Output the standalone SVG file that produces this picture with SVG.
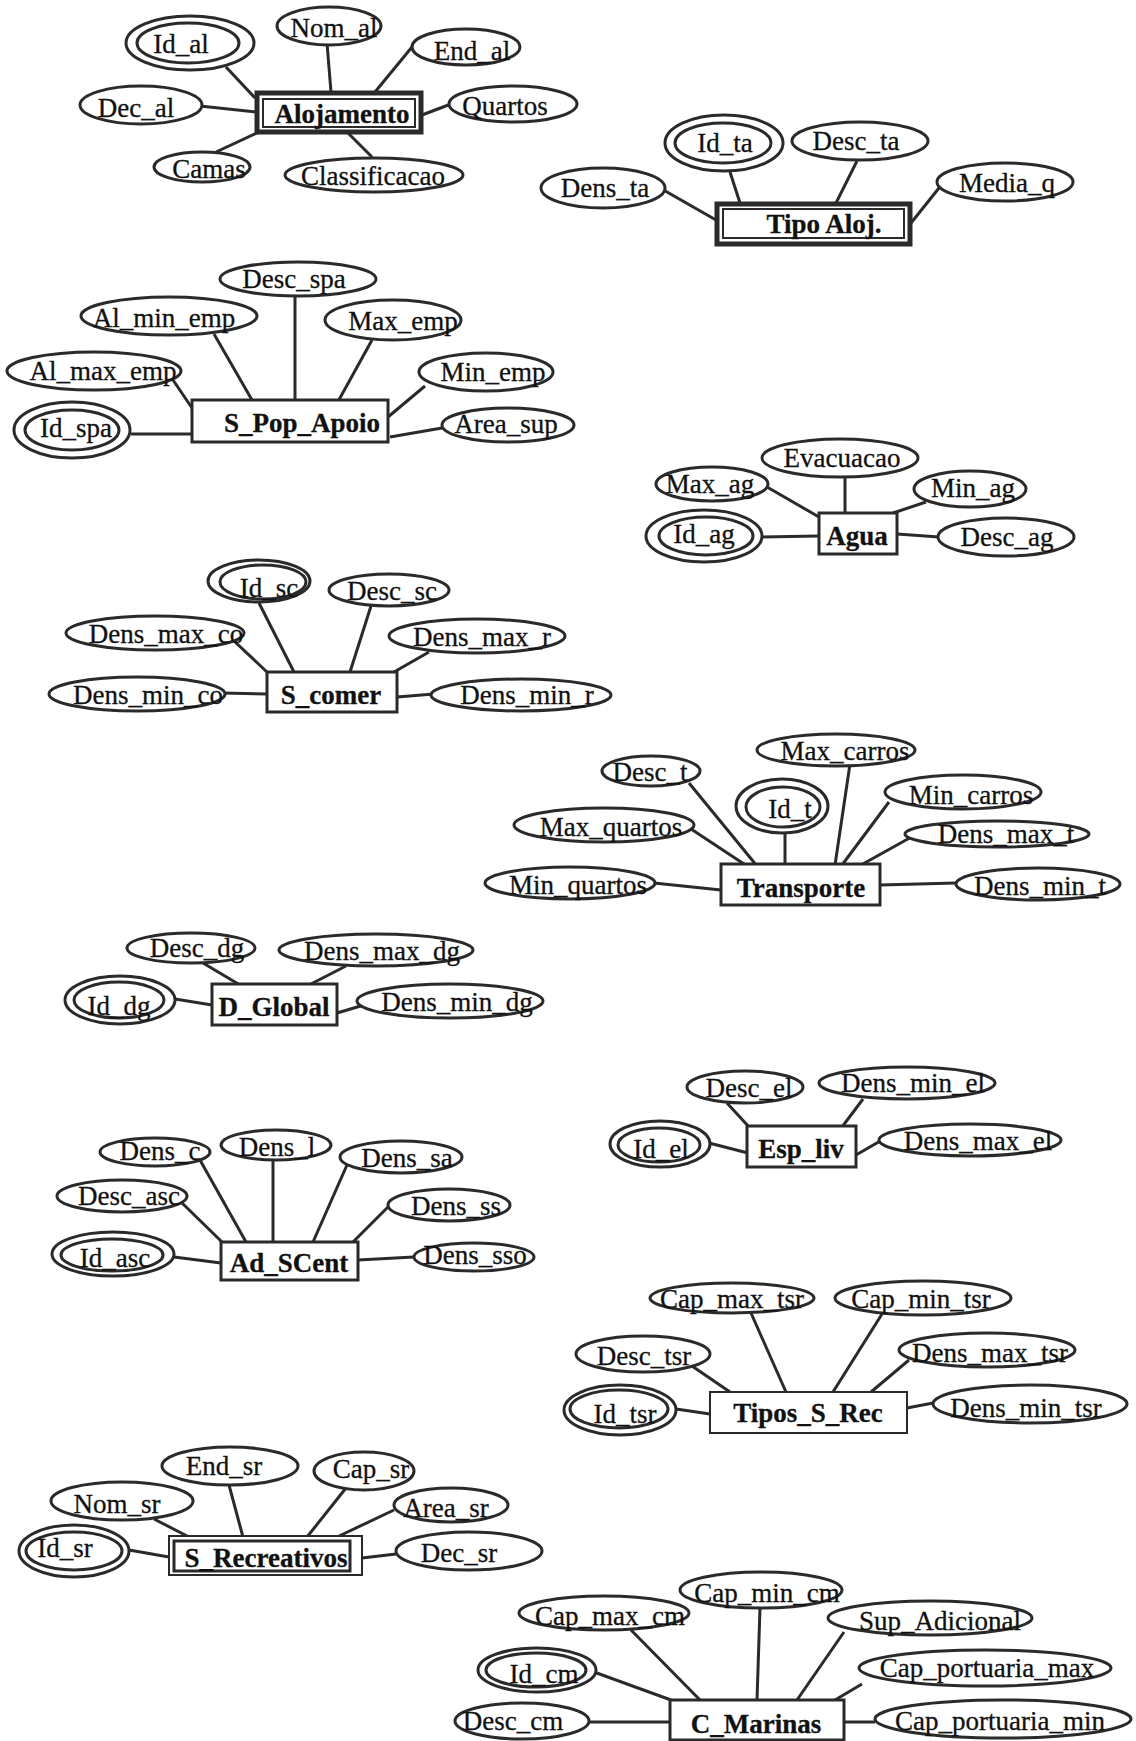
<svg xmlns="http://www.w3.org/2000/svg" width="1136" height="1741" viewBox="0 0 1136 1741">
<style>
.a{fill:#fff;stroke:#2a2a2a;stroke-width:3}
.e{fill:#fff;stroke:#2a2a2a;stroke-width:3}
.w{fill:#fff;stroke:#2a2a2a;stroke-width:5}
.c line{stroke:#2a2a2a;stroke-width:3}
text{font-family:"Liberation Serif","Times New Roman",serif;font-size:27px;fill:#111;stroke:#111;stroke-width:0.3;text-anchor:middle}
.n{font-weight:bold}
</style>
<rect width="1136" height="1741" fill="#fff"/>
<g id="connectors" class="c">
<line x1="226" y1="67" x2="255" y2="98"/><line x1="327" y1="43" x2="331" y2="92"/><line x1="412" y1="47" x2="375" y2="92"/><line x1="200" y1="106" x2="257" y2="112"/><line x1="422" y1="115" x2="451" y2="104"/><line x1="216" y1="152" x2="257" y2="133"/><line x1="348" y1="133" x2="372" y2="157"/>
<line x1="730" y1="172" x2="740" y2="203"/><line x1="857" y1="161" x2="836" y2="203"/><line x1="660" y1="188" x2="716" y2="220"/><line x1="939" y1="188" x2="911" y2="223"/>
<line x1="295" y1="296" x2="295" y2="400"/><line x1="214" y1="334" x2="252" y2="400"/><line x1="372" y1="340" x2="335" y2="407"/><line x1="173" y1="380" x2="192" y2="408"/><line x1="425" y1="386" x2="388" y2="417"/><line x1="131" y1="434" x2="196" y2="434"/><line x1="442" y1="428" x2="390" y2="437"/>
<line x1="845" y1="478" x2="845" y2="513"/><line x1="767" y1="487" x2="819" y2="517"/><line x1="926" y1="502" x2="893" y2="513"/><line x1="762" y1="537" x2="819" y2="536"/><line x1="897" y1="534" x2="939" y2="537"/>
<line x1="259" y1="603" x2="294" y2="672"/><line x1="371" y1="606" x2="350" y2="672"/><line x1="233" y1="640" x2="267" y2="672"/><line x1="429" y1="652" x2="394" y2="672"/><line x1="222" y1="693" x2="267" y2="694"/><line x1="397" y1="697" x2="434" y2="694"/>
<line x1="689" y1="783" x2="757" y2="866"/><line x1="688" y1="827" x2="747" y2="866"/><line x1="785" y1="832" x2="785" y2="865"/><line x1="850" y1="764" x2="835" y2="865"/><line x1="889" y1="802" x2="842" y2="865"/><line x1="915" y1="835" x2="861" y2="865"/><line x1="654" y1="883" x2="721" y2="890"/><line x1="880" y1="885" x2="956" y2="883"/>
<line x1="203" y1="963" x2="240" y2="985"/><line x1="346" y1="966" x2="309" y2="985"/><line x1="175" y1="999" x2="212" y2="1005"/><line x1="337" y1="1013" x2="364" y2="1005"/>
<line x1="200" y1="1160" x2="246" y2="1242"/><line x1="273" y1="1160" x2="273" y2="1242"/><line x1="347" y1="1165" x2="313" y2="1242"/><line x1="181" y1="1202" x2="222" y2="1242"/><line x1="388" y1="1207" x2="353" y2="1242"/><line x1="174" y1="1257" x2="221" y2="1263"/><line x1="358" y1="1260" x2="414" y2="1257"/>
<line x1="727" y1="1103" x2="749" y2="1127"/><line x1="863" y1="1099" x2="842" y2="1127"/><line x1="709" y1="1143" x2="748" y2="1153"/><line x1="882" y1="1140" x2="856" y2="1155"/>
<line x1="751" y1="1313" x2="786" y2="1392"/><line x1="882" y1="1314" x2="833" y2="1392"/><line x1="692" y1="1366" x2="730" y2="1392"/><line x1="909" y1="1360" x2="871" y2="1392"/><line x1="676" y1="1409" x2="710" y2="1414"/><line x1="907" y1="1408" x2="933" y2="1403"/>
<line x1="229" y1="1485" x2="243" y2="1537"/><line x1="346" y1="1488" x2="307" y2="1537"/><line x1="154" y1="1519" x2="189" y2="1537"/><line x1="394" y1="1510" x2="337" y2="1537"/><line x1="129" y1="1550" x2="169" y2="1557"/><line x1="362" y1="1558" x2="396" y2="1554"/>
<line x1="594" y1="1672" x2="671" y2="1700"/><line x1="631" y1="1630" x2="700" y2="1700"/><line x1="760" y1="1608" x2="757" y2="1700"/><line x1="844" y1="1632" x2="797" y2="1700"/><line x1="862" y1="1684" x2="835" y2="1700"/><line x1="589" y1="1722" x2="670" y2="1722"/><line x1="844" y1="1722" x2="875" y2="1722"/>
</g>

<g id="Alojamento"><rect class="w" x="257" y="93" width="164" height="39"/><rect class="a" x="263" y="99" width="152" height="28" style="stroke-width:2"/><text class="n" x="342" y="123">Alojamento</text></g>
<g id="Id_al"><ellipse class="a" cx="190" cy="43" rx="64" ry="27"/><ellipse class="a" cx="188" cy="43" rx="51" ry="20"/><text x="181" y="53">Id_al</text></g>
<g id="Nom_al"><ellipse class="a" cx="329" cy="26" rx="52" ry="19"/><text x="334" y="37">Nom_al</text></g>
<g id="End_al"><ellipse class="a" cx="466" cy="47" rx="54" ry="18"/><text x="472" y="60">End_al</text></g>
<g id="Dec_al"><ellipse class="a" cx="141" cy="105" rx="61" ry="19"/><text x="136" y="117">Dec_al</text></g>
<g id="Quartos"><ellipse class="a" cx="513" cy="104" rx="64" ry="18"/><text x="505" y="115">Quartos</text></g>
<g id="Camas"><ellipse class="a" cx="202" cy="167" rx="48" ry="15"/><text x="209" y="178">Camas</text></g>
<g id="Classificacao"><ellipse class="a" cx="374" cy="175" rx="89" ry="17"/><text x="373" y="185">Classificacao</text></g>

<g id="Tipo_Aloj"><rect class="w" x="717" y="204" width="193" height="40"/><rect class="a" x="723" y="209" width="181" height="29" style="stroke-width:2"/><text class="n" x="824" y="233">Tipo Aloj.</text></g>
<g id="Id_ta"><ellipse class="a" cx="724" cy="143" rx="59" ry="28"/><ellipse class="a" cx="723" cy="143" rx="48" ry="20"/><text x="725" y="152">Id_ta</text></g>
<g id="Desc_ta"><ellipse class="a" cx="860" cy="141" rx="68" ry="19"/><text x="856" y="150">Desc_ta</text></g>
<g id="Dens_ta"><ellipse class="a" cx="603" cy="188" rx="62" ry="20"/><text x="605" y="197">Dens_ta</text></g>
<g id="Media_q"><ellipse class="a" cx="1005" cy="182" rx="68" ry="19"/><text x="1007" y="192">Media_q</text></g>

<g id="S_Pop_Apoio"><rect class="e" x="192" y="400" width="196" height="42"/><text class="n" x="302" y="432">S_Pop_Apoio</text></g>
<g id="Desc_spa"><ellipse class="a" cx="298" cy="279" rx="78" ry="17"/><text x="294" y="288">Desc_spa</text></g>
<g id="Al_min_emp"><ellipse class="a" cx="169" cy="316" rx="88" ry="19"/><text x="164" y="327">Al_min_emp</text></g>
<g id="Max_emp"><ellipse class="a" cx="393" cy="320" rx="68" ry="20"/><text x="403" y="330">Max_emp</text></g>
<g id="Al_max_emp"><ellipse class="a" cx="94" cy="371" rx="87" ry="19"/><text x="103" y="380">Al_max_emp</text></g>
<g id="Min_emp"><ellipse class="a" cx="486" cy="372" rx="67" ry="19"/><text x="493" y="381">Min_emp</text></g>
<g id="Id_spa"><ellipse class="a" cx="72" cy="430" rx="58" ry="28"/><ellipse class="a" cx="72" cy="430" rx="47" ry="20"/><text x="76" y="437">Id_spa</text></g>
<g id="Area_sup"><ellipse class="a" cx="508" cy="425" rx="66" ry="17"/><text x="506" y="433">Area_sup</text></g>

<g id="Agua"><rect class="e" x="819" y="513" width="78" height="41"/><text class="n" x="857" y="545">Agua</text></g>
<g id="Evacuacao"><ellipse class="a" cx="840" cy="458" rx="78" ry="19"/><text x="842" y="467">Evacuacao</text></g>
<g id="Max_ag"><ellipse class="a" cx="712" cy="484" rx="56" ry="17"/><text x="710" y="493">Max_ag</text></g>
<g id="Min_ag"><ellipse class="a" cx="970" cy="489" rx="56" ry="18"/><text x="973" y="497">Min_ag</text></g>
<g id="Id_ag"><ellipse class="a" cx="704" cy="536" rx="58" ry="26"/><ellipse class="a" cx="706" cy="536" rx="47" ry="19"/><text x="704" y="543">Id_ag</text></g>
<g id="Desc_ag"><ellipse class="a" cx="1006" cy="537" rx="68" ry="19"/><text x="1007" y="546">Desc_ag</text></g>

<g id="S_comer"><rect class="e" x="267" y="672" width="130" height="40"/><text class="n" x="331" y="704">S_comer</text></g>
<g id="Id_sc"><ellipse class="a" cx="259" cy="581" rx="51" ry="21"/><ellipse class="a" cx="263" cy="582" rx="43" ry="17"/><text x="269" y="597">Id_sc</text></g>
<g id="Desc_sc"><ellipse class="a" cx="389" cy="590" rx="60" ry="16"/><text x="392" y="600">Desc_sc</text></g>
<g id="Dens_max_co"><ellipse class="a" cx="155" cy="633" rx="89" ry="17"/><text x="166" y="643">Dens_max_co</text></g>
<g id="Dens_max_r"><ellipse class="a" cx="477" cy="636" rx="88" ry="17"/><text x="482" y="646">Dens_max_r</text></g>
<g id="Dens_min_co"><ellipse class="a" cx="137" cy="694" rx="88" ry="17"/><text x="148" y="704">Dens_min_co</text></g>
<g id="Dens_min_r"><ellipse class="a" cx="521" cy="695" rx="90" ry="16"/><text x="527" y="704">Dens_min_r</text></g>

<g id="Transporte"><rect class="e" x="721" y="864" width="159" height="41"/><text class="n" x="801" y="897">Transporte</text></g>
<g id="Desc_t"><ellipse class="a" cx="651" cy="771" rx="49" ry="15"/><text x="650" y="781">Desc_t</text></g>
<g id="Max_carros"><ellipse class="a" cx="836" cy="750" rx="79" ry="16"/><text x="845" y="760">Max_carros</text></g>
<g id="Id_t"><ellipse class="a" cx="782" cy="806" rx="46" ry="27"/><ellipse class="a" cx="783" cy="807" rx="37" ry="20"/><text x="790" y="818">Id_t</text></g>
<g id="Min_carros"><ellipse class="a" cx="963" cy="792" rx="78" ry="17"/><text x="971" y="804">Min_carros</text></g>
<g id="Max_quartos"><ellipse class="a" cx="604" cy="825" rx="90" ry="17"/><text x="611" y="836">Max_quartos</text></g>
<g id="Dens_max_t"><ellipse class="a" cx="997" cy="834" rx="92" ry="13"/><text x="1006" y="843">Dens_max_t</text></g>
<g id="Min_quartos"><ellipse class="a" cx="570" cy="883" rx="85" ry="16"/><text x="578" y="894">Min_quartos</text></g>
<g id="Dens_min_t"><ellipse class="a" cx="1038" cy="884" rx="82" ry="16"/><text x="1040" y="895">Dens_min_t</text></g>

<g id="D_Global"><rect class="e" x="212" y="984" width="125" height="41"/><text class="n" x="274" y="1016">D_Global</text></g>
<g id="Desc_dg"><ellipse class="a" cx="191" cy="948" rx="64" ry="15"/><text x="197" y="957">Desc_dg</text></g>
<g id="Dens_max_dg"><ellipse class="a" cx="376" cy="950" rx="97" ry="16"/><text x="382" y="960">Dens_max_dg</text></g>
<g id="Id_dg"><ellipse class="a" cx="120" cy="1000" rx="55" ry="24"/><ellipse class="a" cx="119" cy="1000" rx="45" ry="18"/><text x="119" y="1015">Id_dg</text></g>
<g id="Dens_min_dg"><ellipse class="a" cx="450" cy="1001" rx="93" ry="17"/><text x="457" y="1011">Dens_min_dg</text></g>

<g id="Ad_SCent"><rect class="e" x="221" y="1242" width="137" height="38"/><text class="n" x="289" y="1272">Ad_SCent</text></g>
<g id="Dens_c"><ellipse class="a" cx="155" cy="1152" rx="55" ry="14"/><text x="160" y="1160">Dens_c</text></g>
<g id="Dens_l"><ellipse class="a" cx="276" cy="1145" rx="55" ry="15"/><text x="277" y="1156">Dens_l</text></g>
<g id="Dens_sa"><ellipse class="a" cx="401" cy="1157" rx="61" ry="16"/><text x="407" y="1167">Dens_sa</text></g>
<g id="Desc_asc"><ellipse class="a" cx="122" cy="1196" rx="65" ry="16"/><text x="129" y="1205">Desc_asc</text></g>
<g id="Dens_ss"><ellipse class="a" cx="449" cy="1205" rx="61" ry="16"/><text x="456" y="1215">Dens_ss</text></g>
<g id="Id_asc"><ellipse class="a" cx="113" cy="1254" rx="61" ry="22"/><ellipse class="a" cx="112" cy="1255" rx="51" ry="16"/><text x="115" y="1267">Id_asc</text></g>
<g id="Dens_sso"><ellipse class="a" cx="474" cy="1257" rx="60" ry="14"/><text x="475" y="1264">Dens_sso</text></g>

<g id="Esp_liv"><rect class="e" x="747" y="1126" width="109" height="41"/><text class="n" x="801" y="1158">Esp_liv</text></g>
<g id="Desc_el"><ellipse class="a" cx="745" cy="1087" rx="58" ry="16"/><text x="749" y="1097">Desc_el</text></g>
<g id="Dens_min_el"><ellipse class="a" cx="907" cy="1083" rx="88" ry="16"/><text x="913" y="1092">Dens_min_el</text></g>
<g id="Id_el"><ellipse class="a" cx="660" cy="1144" rx="50" ry="23"/><ellipse class="a" cx="659" cy="1145" rx="41" ry="17"/><text x="661" y="1158">Id_el</text></g>
<g id="Dens_max_el"><ellipse class="a" cx="970" cy="1140" rx="91" ry="16"/><text x="978" y="1150">Dens_max_el</text></g>

<g id="Tipos_S_Rec"><rect class="e" x="710" y="1392" width="197" height="41" style="stroke-width:2"/><text class="n" x="808" y="1422">Tipos_S_Rec</text></g>
<g id="Cap_max_tsr"><ellipse class="a" cx="732" cy="1298" rx="82" ry="15"/><text x="732" y="1308">Cap_max_tsr</text></g>
<g id="Cap_min_tsr"><ellipse class="a" cx="923" cy="1298" rx="88" ry="17"/><text x="921" y="1308">Cap_min_tsr</text></g>
<g id="Desc_tsr"><ellipse class="a" cx="643" cy="1354" rx="67" ry="18"/><text x="644" y="1365">Desc_tsr</text></g>
<g id="Dens_max_tsr"><ellipse class="a" cx="987" cy="1350" rx="88" ry="17"/><text x="990" y="1362">Dens_max_tsr</text></g>
<g id="Id_tsr"><ellipse class="a" cx="620" cy="1410" rx="56" ry="25"/><ellipse class="a" cx="619" cy="1409" rx="49" ry="19"/><text x="625" y="1423">Id_tsr</text></g>
<g id="Dens_min_tsr"><ellipse class="a" cx="1030" cy="1404" rx="97" ry="19"/><text x="1026" y="1417">Dens_min_tsr</text></g>

<g id="S_Recreativos"><rect class="e" x="169" y="1536" width="193" height="39" style="stroke-width:2"/><rect class="e" x="174" y="1541" width="176" height="30"/><text class="n" x="266" y="1567">S_Recreativos</text></g>
<g id="End_sr"><ellipse class="a" cx="230" cy="1466" rx="68" ry="19"/><text x="224" y="1475">End_sr</text></g>
<g id="Cap_sr"><ellipse class="a" cx="364" cy="1471" rx="50" ry="19"/><text x="371" y="1478">Cap_sr</text></g>
<g id="Nom_sr"><ellipse class="a" cx="122" cy="1501" rx="71" ry="19"/><text x="117" y="1513">Nom_sr</text></g>
<g id="Area_sr"><ellipse class="a" cx="451" cy="1505" rx="57" ry="17"/><text x="446" y="1517">Area_sr</text></g>
<g id="Id_sr"><ellipse class="a" cx="74" cy="1551" rx="55" ry="26"/><ellipse class="a" cx="74" cy="1551" rx="48" ry="19"/><text x="65" y="1557">Id_sr</text></g>
<g id="Dec_sr"><ellipse class="a" cx="469" cy="1551" rx="73" ry="19"/><text x="459" y="1562">Dec_sr</text></g>

<g id="C_Marinas"><rect class="e" x="670" y="1700" width="174" height="40"/><text class="n" x="756" y="1733">C_Marinas</text></g>
<g id="Cap_min_cm"><ellipse class="a" cx="761" cy="1590" rx="81" ry="18"/><text x="767" y="1602">Cap_min_cm</text></g>
<g id="Cap_max_cm"><ellipse class="a" cx="604" cy="1613" rx="85" ry="17"/><text x="610" y="1625">Cap_max_cm</text></g>
<g id="Sup_Adicional"><ellipse class="a" cx="930" cy="1618" rx="102" ry="17"/><text x="940" y="1630">Sup_Adicional</text></g>
<g id="Id_cm"><ellipse class="a" cx="537" cy="1670" rx="59" ry="22"/><ellipse class="a" cx="536" cy="1670" rx="50" ry="17"/><text x="544" y="1683">Id_cm</text></g>
<g id="Cap_portuaria_max"><ellipse class="a" cx="985" cy="1668" rx="126" ry="18"/><text x="987" y="1677">Cap_portuaria_max</text></g>
<g id="Desc_cm"><ellipse class="a" cx="522" cy="1721" rx="67" ry="18"/><text x="513" y="1730">Desc_cm</text></g>
<g id="Cap_portuaria_min"><ellipse class="a" cx="1003" cy="1719" rx="128" ry="19"/><text x="1000" y="1730">Cap_portuaria_min</text></g>
</svg>
